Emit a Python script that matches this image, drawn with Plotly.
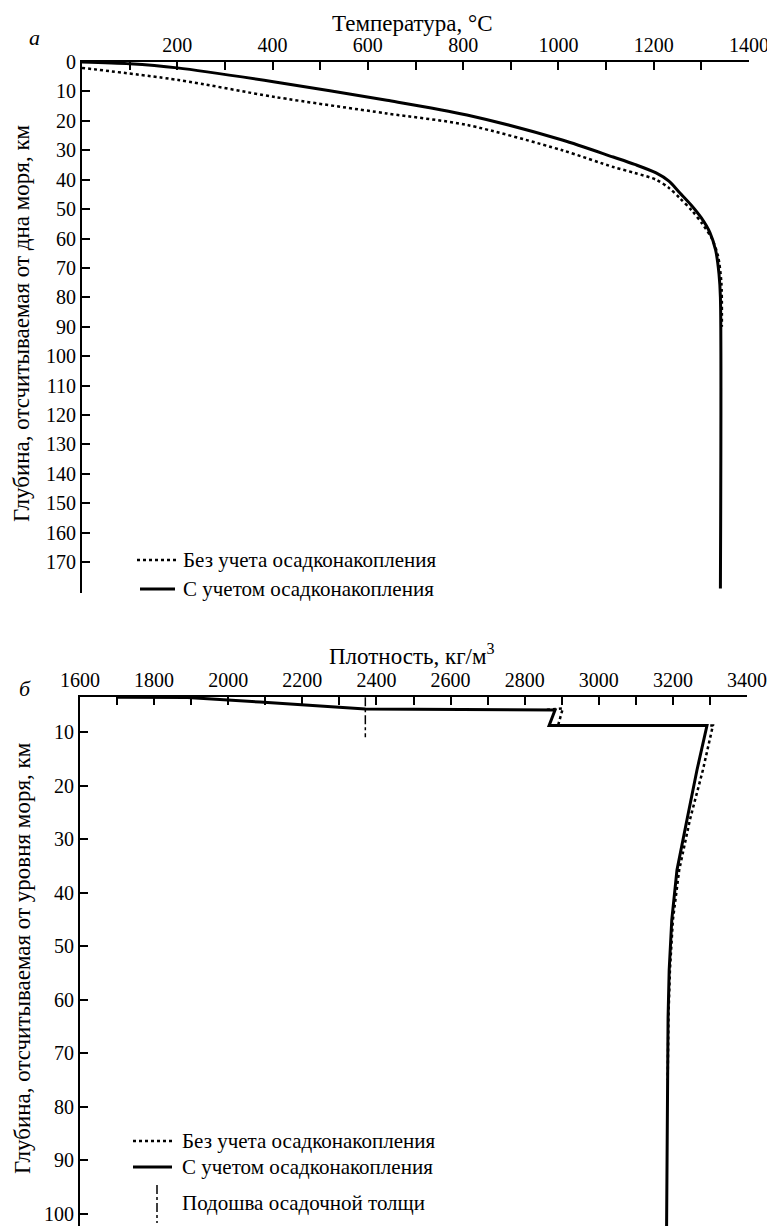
import plotly.graph_objects as go

# page body has an 8px margin: the figure is sized to fit inside it
OFF = 8
W, H = 775 - OFF, 1226 - OFF
FONT = "Liberation Serif, Times New Roman, Tinos, serif"

# ---- Panel a: temperature vs depth below sea floor ----
temp_with = [0, 100, 200, 405, 640, 808, 1008, 1115, 1160, 1205, 1232, 1255, 1278, 1300, 1318, 1330, 1337, 1340, 1340]
depth_with = [0, 0.6, 2.0, 6.8, 13.0, 18.0, 26.5, 32.3, 34.8, 37.7, 40.5, 44.5, 48.5, 53, 58, 64, 72, 80, 179]
temp_without = [0, 202, 405, 640, 808, 1008, 1115, 1160, 1205, 1232, 1255, 1280, 1302, 1322, 1335, 1342, 1343]
depth_without = [2.0, 6.1, 11.9, 17.5, 21.4, 30.0, 35.7, 37.7, 40.0, 42.8, 46.3, 50.5, 55, 60, 66, 75, 90]
temp_ticks = list(range(0, 1401, 100))
temp_ticklabels = [str(v) if (v % 200 == 0 and v > 0) else "" for v in temp_ticks]
depth_a_ticks = list(range(0, 171, 10))
depth_a_ticklabels = [str(v) for v in depth_a_ticks]

# ---- Panel b: density vs depth below sea level ----
dens_with = [1700, 1890, 2086, 2370, 2882, 2866, 3292, 3265, 3238, 3211, 3197, 3190, 3187, 3183]
depthsl_with = [3.5, 3.55, 4.4, 5.7, 5.9, 8.8, 8.8, 17.1, 26.4, 35.8, 45.1, 54.5, 63.3, 102.3]
dens_without = [2860, 2903, 2890, 3308, 3281, 3246, 3217, 3200, 3192, 3188, 3186]
depthsl_without = [5.85, 5.6, 8.8, 8.8, 17.1, 26.4, 35.8, 45.1, 54.5, 63.3, 75]
base_density = [2370, 2370]
base_depth = [3.5, 11.0]
dens_ticks = list(range(1600, 3401, 100))
dens_ticklabels = [str(v) if v % 200 == 0 else "" for v in dens_ticks]
depth_b_ticks = list(range(10, 101, 10))
depth_b_ticklabels = [str(v) for v in depth_b_ticks]

legend_a = ["Без учета осадконакопления", "С учетом осадконакопления"]
legend_b = ["Без учета осадконакопления", "С учетом осадконакопления", "Подошва осадочной толщи"]


def px(x):
    return (x - OFF) / W


def py(y):
    return 1 - (y - OFF) / H


fig = go.Figure()
fig.add_trace(go.Scatter(x=temp_without, y=depth_without, mode="lines", xaxis="x", yaxis="y",
                         line=dict(color="black", width=2.5, dash="dot", shape="spline", smoothing=0.8)))
fig.add_trace(go.Scatter(x=temp_with, y=depth_with, mode="lines", xaxis="x", yaxis="y",
                         line=dict(color="black", width=3, shape="spline", smoothing=0.8)))
fig.add_trace(go.Scatter(x=dens_without, y=depthsl_without, mode="lines", xaxis="x2", yaxis="y2",
                         line=dict(color="black", width=2.5, dash="dot")))
fig.add_trace(go.Scatter(x=dens_with, y=depthsl_with, mode="lines", xaxis="x2", yaxis="y2",
                         line=dict(color="black", width=3)))
fig.add_trace(go.Scatter(x=base_density, y=base_depth, mode="lines", xaxis="x2", yaxis="y2",
                         line=dict(color="black", width=1.5, dash="dashdot")))

tickfont = dict(family=FONT, size=20, color="black")
axis_common = dict(showline=True, linecolor="black", linewidth=2, ticks="inside", ticklen=8,
                   tickwidth=1.5, tickcolor="black", showgrid=False, zeroline=False,
                   tickfont=tickfont, fixedrange=True, automargin=False)

fig.update_layout(
    template="none",
    width=W, height=H, margin=dict(l=0, r=0, t=0, b=0, autoexpand=False),
    paper_bgcolor="white", plot_bgcolor="white", showlegend=False,
    xaxis=dict(domain=[px(82), px(749)], range=[0, 1400], side="top", anchor="y",
               tickmode="array", tickvals=temp_ticks, ticktext=temp_ticklabels, **axis_common),
    yaxis=dict(domain=[py(593), py(62)], range=[180.5, 0], anchor="x",
               tickmode="array", tickvals=depth_a_ticks, ticktext=depth_a_ticklabels, **axis_common),
    xaxis2=dict(domain=[px(80), px(747)], range=[1600, 3400], side="top", anchor="y2",
                tickmode="array", tickvals=dens_ticks, ticktext=dens_ticklabels, **axis_common),
    yaxis2=dict(domain=[0, py(697)], range=[102.3, 3.46], anchor="x2",
                tickmode="array", tickvals=depth_b_ticks, ticktext=depth_b_ticklabels, **axis_common),
)

ann = []
def text(x, y, s, size=21, italic=False, xanchor="center", angle=0):
    t = f"<i>{s}</i>" if italic else s
    ann.append(dict(x=px(x), y=py(y), xref="paper", yref="paper", text=t, showarrow=False,
                    xanchor=xanchor, yanchor="middle", textangle=angle,
                    font=dict(family=FONT, size=size, color="black")))

text(412, 24, "Температура, °C", size=23)
text(34, 37, "а", size=22, italic=True)
text(22, 323, "Глубина, отсчитываемая от дна моря, км", size=23, angle=-90)
text(412, 654, "Плотность, кг/м<sup>3</sup>", size=23)
text(25, 688, "б", size=22, italic=True)
text(22, 958, "Глубина, отсчитываемая от уровня моря, км", size=23, angle=-90)

text(181, 560, legend_a[0], xanchor="left")
text(181, 589, legend_a[1], xanchor="left")
text(180, 1141, legend_b[0], xanchor="left")
text(180, 1167, legend_b[1], xanchor="left")
text(180, 1203, legend_b[2], xanchor="left")

shapes = [
    dict(type="line", xref="paper", yref="paper", x0=px(137), x1=px(176), y0=py(560), y1=py(560),
         line=dict(color="black", width=2.5, dash="dot")),
    dict(type="line", xref="paper", yref="paper", x0=px(140), x1=px(175), y0=py(589), y1=py(589),
         line=dict(color="black", width=3)),
    dict(type="line", xref="paper", yref="paper", x0=px(133), x1=px(172), y0=py(1141), y1=py(1141),
         line=dict(color="black", width=2.5, dash="dot")),
    dict(type="line", xref="paper", yref="paper", x0=px(133), x1=px(172), y0=py(1167), y1=py(1167),
         line=dict(color="black", width=3)),
    dict(type="line", xref="paper", yref="paper", x0=px(157), x1=px(157), y0=py(1185), y1=py(1223),
         line=dict(color="black", width=1.5, dash="dashdot")),
]
fig.update_layout(annotations=ann, shapes=shapes)

fig.write_html("out.html")
